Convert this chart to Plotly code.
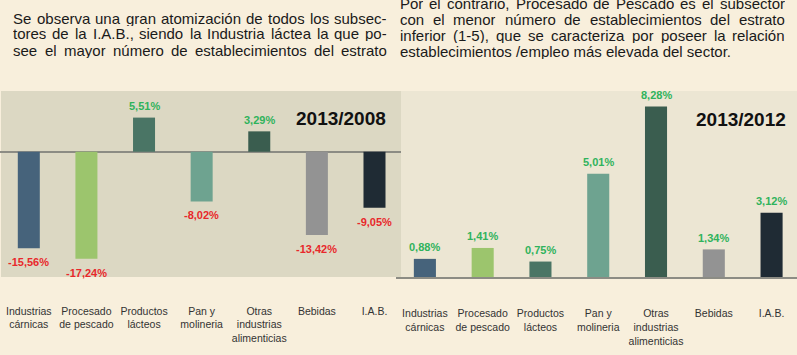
import plotly.graph_objects as go

# ---------------- data ----------------
categories = ["Industrias<br>cárnicas", "Procesado<br>de pescado", "Productos<br>lácteos",
              "Pan y<br>molineria", "Otras<br>industrias<br>alimenticias", "Bebidas", "I.A.B."]
var_2013_2008 = [-15.56, -17.24, 5.51, -8.02, 3.29, -13.42, -9.05]
var_2013_2012 = [0.88, 1.41, 0.75, 5.01, 8.28, 1.34, 3.12]
bar_colors = ["#46637b", "#9cc56d", "#4a7565", "#6ea390", "#3a5d4f", "#939393", "#1f2b34"]
titles = ["2013/2008", "2013/2012"]

left_text = [
    "Se observa una gran atomización de todos los subsec-",
    "tores de la I.A.B., siendo la Industria láctea la que po-",
    "see el mayor número de establecimientos del estrato",
]
right_text = [
    "Por el contrario, Procesado de Pescado es el subsector",
    "con el menor número de establecimientos del estrato",
    "inferior (1-5), que se caracteriza por poseer la relación",
    "establecimientos /empleo más elevada del sector.",
]

W, H = 797, 355
FONT = "Liberation Sans, Arial, sans-serif"
GREEN = "#2fb35c"
RED = "#e8282b"
TXT_SIZE = 15

# Arial / Liberation Sans advance widths (1/1000 em) for justification
AW = {' ': 278, '!': 278, '(': 333, ')': 333, ',': 278, '-': 333, '.': 278, '/': 278, ':': 278}
AW.update({d: 556 for d in "0123456789"})
AW.update(dict(zip("ABCDEFGHIJKLMNOPQRSTUVWXYZ",
                   [667, 667, 722, 722, 667, 611, 778, 722, 278, 500, 667, 556, 833, 722, 778, 667,
                    778, 722, 667, 611, 722, 667, 944, 667, 667, 611])))
AW.update(dict(zip("abcdefghijklmnopqrstuvwxyz",
                   [556, 556, 500, 556, 556, 278, 556, 556, 222, 222, 500, 222, 833, 556, 556, 556,
                    556, 333, 500, 278, 556, 500, 722, 500, 500, 500])))
AW.update({'á': 556, 'é': 556, 'í': 278, 'ó': 556, 'ú': 556, 'ñ': 556})


def word_w(w, size):
    return sum(AW.get(c, 556) for c in w) * size / 1000.0


def fmt(v):
    return f"{v:.2f}".replace(".", ",") + "%"


x_idx = list(range(len(categories)))

fig = go.Figure()
fig.add_trace(go.Bar(x=x_idx, y=var_2013_2008, marker=dict(color=bar_colors, line_width=0),
                     xaxis="x", yaxis="y", showlegend=False, hoverinfo="skip"))
fig.add_trace(go.Bar(x=x_idx, y=var_2013_2012, marker=dict(color=bar_colors, line_width=0),
                     xaxis="x2", yaxis="y2", showlegend=False, hoverinfo="skip"))

ann = []
for i, v in enumerate(var_2013_2008):
    ann.append(dict(x=i, y=v, xref="x", yref="y", text=f"<b>{fmt(v)}</b>", showarrow=False,
                    yanchor="middle", yshift=(11.5 if v >= 0 else -14),
                    font=dict(family=FONT, size=11, color=GREEN if v >= 0 else RED)))
for i, v in enumerate(var_2013_2012):
    ann.append(dict(x=i, y=v, xref="x2", yref="y2", text=f"<b>{fmt(v)}</b>", showarrow=False,
                    yanchor="middle", yshift=11.5,
                    font=dict(family=FONT, size=11, color=GREEN)))

# panel titles
ann.append(dict(x=341 / W, y=1 - 118 / H, xref="paper", yref="paper", text=f"<b>{titles[0]}</b>",
                showarrow=False, xanchor="center", yanchor="middle",
                font=dict(family=FONT, size=19, color="#111111")))
ann.append(dict(x=741 / W, y=1 - 119 / H, xref="paper", yref="paper", text=f"<b>{titles[1]}</b>",
                showarrow=False, xanchor="center", yanchor="middle",
                font=dict(family=FONT, size=19, color="#111111")))


# justified paragraphs: each word placed so the line fills [x0, x1]
def add_paragraph(lines, x0, x1, y_first, justify_last):
    for k, line in enumerate(lines):
        yc = 1 - (y_first + 16 * k) / H
        last = (k == len(lines) - 1)
        if last and not justify_last:
            ann.append(dict(x=x0 / W, y=yc, xref="paper", yref="paper", text=line,
                            showarrow=False, xanchor="left", yanchor="middle", borderpad=0,
                            height=15, xshift=-1,
                            font=dict(family=FONT, size=TXT_SIZE, color="#1a1a1a")))
            continue
        words = line.split(" ")
        widths = [word_w(w, TXT_SIZE) for w in words]
        gap = (x1 - x0 - sum(widths)) / max(len(words) - 1, 1)
        x = x0
        for w, ww in zip(words, widths):
            ann.append(dict(x=x / W, y=yc, xref="paper", yref="paper", text=w,
                            showarrow=False, xanchor="left", yanchor="middle", borderpad=0,
                            height=15, xshift=-1,
                            font=dict(family=FONT, size=TXT_SIZE, color="#1a1a1a")))
            x += ww + gap


add_paragraph(left_text, 13, 387, 18, True)
add_paragraph(right_text, 400, 785, 3.5, False)

y_dom = [1 - 277 / H, 1 - 91 / H]
shapes = [
    dict(type="rect", xref="paper", yref="paper", x0=1 / W, x1=401 / W, y0=y_dom[0], y1=y_dom[1],
         fillcolor="#dcd8c3", line_width=0, layer="below"),
    dict(type="rect", xref="paper", yref="paper", x0=401 / W, x1=1, y0=y_dom[0], y1=y_dom[1],
         fillcolor="#ece6d3", line_width=0, layer="below"),
]

tick_font = dict(family=FONT, size=10.5, color="#333333")
fig.update_layout(
    width=W, height=H, margin=dict(l=0, r=0, t=0, b=0),
    paper_bgcolor="#f8efdc", plot_bgcolor="rgba(0,0,0,0)",
    bargap=0.618, annotations=ann, shapes=shapes,
    xaxis=dict(domain=[0, 401 / W], range=[-0.5, 6.46], tickvals=x_idx, ticktext=categories,
               showgrid=False, zeroline=False, showline=False, ticks="", tickfont=tick_font,
               ticklabelstandoff=26, fixedrange=True, anchor="y"),
    yaxis=dict(domain=y_dom, range=[-20.2, 9.8], showgrid=False, zeroline=True,
               zerolinecolor="#8c8c84", zerolinewidth=1.5, showticklabels=False, ticks="",
               showline=False, anchor="x"),
    xaxis2=dict(domain=[396 / W, 1], range=[-0.5, 6.44], tickvals=x_idx, ticktext=categories,
                showgrid=False, zeroline=False, showline=True, linecolor="#8c8c84", linewidth=1.5,
                ticks="", tickfont=tick_font, ticklabelstandoff=26, anchor="y2"),
    yaxis2=dict(domain=y_dom, range=[0, 9.03], showgrid=False, zeroline=False,
                showticklabels=False, ticks="", showline=False, anchor="x2"),
)

fig.write_html("out.html")
